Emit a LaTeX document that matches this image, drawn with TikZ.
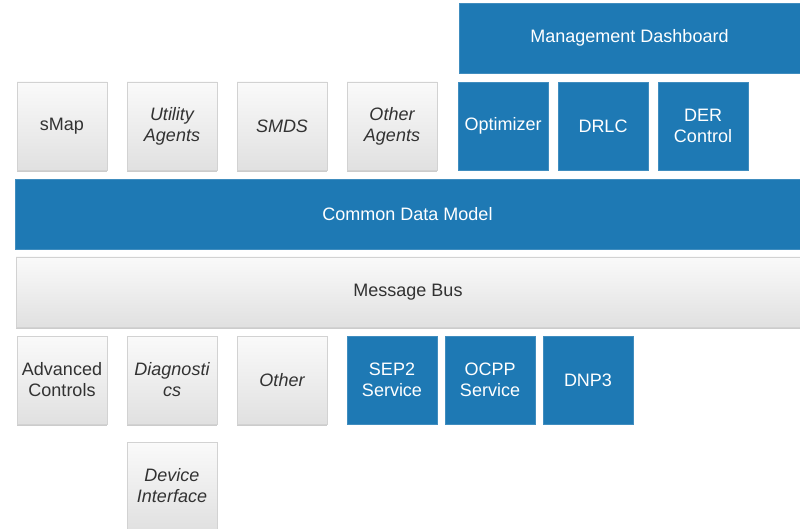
\documentclass[tikz,border=0pt]{standalone}
\usepackage{fontspec}
\setmainfont{Liberation Sans}
\usetikzlibrary{positioning,shadows}
\definecolor{volblue}{RGB}{30,121,180}
\definecolor{boxtext}{RGB}{50,50,50}

\begin{document}
\begin{tikzpicture}[x=1pt, y=-1pt, node distance=20pt]
    \tikzset{
    layer/.style={
        rectangle,
        outer sep=0pt,
        inner sep=3pt,
        align=center,
        font=\fontsize{18}{21}\selectfont
    },
    italic/.style={
        font=\fontsize{18}{21}\selectfont\itshape
    },
    graybox/.style={
        layer,
        draw=gray!35,
        top color=gray!4,
        bottom color=gray!24,
        text=boxtext,
        drop shadow={shadow xshift=0pt, shadow yshift=-2pt, opacity=0.4, fill=gray}
    },
    bluebox/.style={
        layer,
        fill=volblue,
        draw=volblue!85!white,
        text=white
    },
    tile/.style={minimum width=90pt, minimum height=88pt}
}
    \useasboundingbox (0,0) rectangle (800,529);

    % top row
    \node[bluebox, minimum width=341pt, minimum height=70pt] (dash) at (629.5,38) {Management Dashboard};
    \node[graybox, tile] (smap) at (62,126) {sMap};
    \node[graybox, tile, right=of smap, italic] (utility) {Utility\\Agents};
    \node[graybox, tile, right=of utility, italic] (smds) {SMDS};
    \node[graybox, tile, right=of smds, italic] (otheragents) {Other\\Agents};
    \node[bluebox, tile, right=21pt of otheragents] (optim) {Optimizer};
    \node[bluebox, tile, right=10pt of optim] (drlc) {DRLC};
    \node[bluebox, tile, right=10pt of drlc] (der) {DER\\Control};

    % bars
    \node[bluebox, minimum width=785pt, minimum height=70pt] (cdm) at (407.5,214) {Common Data Model};
    \node[graybox, minimum width=784pt, minimum height=70pt] (bus) at (408,292) {Message Bus};

    % bottom row
    \node[graybox, tile] (advctrl) at (62,380) {Advanced\\Controls};
    \node[graybox, tile, right=of advctrl, italic] (diag) {Diagnosti\\cs};
    \node[graybox, tile, right=of diag, italic] (other) {Other};
    \node[bluebox, tile, right=of other] (sep) {SEP2\\Service};
    \node[bluebox, tile, right=8pt of sep] (ocpp) {OCPP\\Service};
    \node[bluebox, tile, right=8pt of ocpp] (dnp) {DNP3};
    \node[graybox, tile, below=18pt of diag, italic] (devif) {Device\\Interface};
\end{tikzpicture}
\end{document}
